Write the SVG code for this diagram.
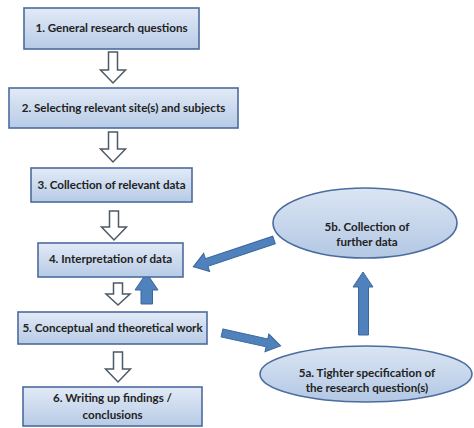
<svg xmlns="http://www.w3.org/2000/svg" width="474" height="428" viewBox="0 0 474 428">
  <defs>
    <linearGradient id="boxFill" x1="0" y1="0" x2="0" y2="1">
      <stop offset="0" stop-color="#e2eaf6"/>
      <stop offset="1" stop-color="#b7cbe6"/>
    </linearGradient>
    <linearGradient id="ovalFill" x1="0" y1="0" x2="0" y2="1">
      <stop offset="0" stop-color="#dbe5f3"/>
      <stop offset="1" stop-color="#b3c8e4"/>
    </linearGradient>
  </defs>
  <style>
    .box { fill: url(#boxFill); stroke: #4b6c9e; stroke-width: 1.6; }
    .oval { fill: url(#ovalFill); stroke: #4b6c9e; stroke-width: 1.6; }
    .lbl { font-family: Lato, "Liberation Sans", sans-serif; font-weight: bold; font-size: 11.6px; fill: #222; text-anchor: middle; }
    .hollow { fill: #ffffff; stroke: #4e5a66; stroke-width: 1.5; stroke-linejoin: miter; }
    .solid { fill: #4f81bd; stroke: #3a679c; stroke-width: 1; }
  </style>

  <rect width="474" height="428" fill="#ffffff"/>

  <g id="connectors">
    <!-- hollow down arrows between steps -->
    <path class="hollow" d="M108.5,52 H117.5 V70 H125.5 L113,83 L100.5,70 H108.5 Z"/>
    <path class="hollow" d="M108.5,132 H117.5 V149 H125.5 L113,162 L100.5,149 H108.5 Z"/>
    <path class="hollow" d="M109.5,211 H118.5 V227 H126.5 L114,240 L101.5,227 H109.5 Z"/>
    <path class="hollow" d="M113.5,283 H122.5 V294 H130 L118,305 L106,294 H113.5 Z"/>
    <path class="hollow" d="M113.5,352 H122.5 V369 H130.5 L118,382 L105.5,369 H113.5 Z"/>
    <!-- solid feedback arrows -->
    <path class="solid" d="M146.5,273 L158,290 H152.5 V304 H141 V290 H135 Z"/>
    <path class="solid" d="M363,272 L373,287 H368.5 V335 H358.5 V287 H353 Z"/>
    <path class="solid" transform="translate(274,240) rotate(161.6)" d="M0,-4 H71 V-9.5 L85,0 L71,9.5 V4 H0 Z"/>
    <path class="solid" transform="translate(222,333) rotate(12.4)" d="M0,-4 H46 V-9 L60,0 L46,9 V4 H0 Z"/>
  </g>

  <g id="step1">
    <rect class="box" x="24" y="8" width="175" height="41"/>
    <text class="lbl" x="111.5" y="32">1. General research questions</text>
  </g>
  <g id="step2">
    <rect class="box" x="9" y="88" width="229" height="40"/>
    <text class="lbl" x="123.5" y="112">2. Selecting relevant site(s) and subjects</text>
  </g>
  <g id="step3">
    <rect class="box" x="31" y="168" width="161" height="34"/>
    <text class="lbl" x="111.5" y="189">3. Collection of relevant data</text>
  </g>
  <g id="step4">
    <rect class="box" x="38" y="243" width="145" height="34"/>
    <text class="lbl" x="110.5" y="263">4. Interpretation of data</text>
  </g>
  <g id="step5">
    <rect class="box" x="18" y="312" width="189" height="32"/>
    <text class="lbl" x="112.5" y="332">5. Conceptual and theoretical work</text>
  </g>
  <g id="step6">
    <rect class="box" x="23" y="387" width="179" height="39"/>
    <text class="lbl" x="112.5" y="402">6. Writing up findings /</text>
    <text class="lbl" x="112.5" y="419">conclusions</text>
  </g>
  <g id="step5b">
    <ellipse class="oval" cx="365" cy="223" rx="92" ry="35"/>
    <text class="lbl" x="367" y="231">5b. Collection of</text>
    <text class="lbl" x="367" y="246">further data</text>
  </g>
  <g id="step5a">
    <ellipse class="oval" cx="366" cy="374" rx="106" ry="28"/>
    <text class="lbl" x="367" y="377">5a. Tighter specification of</text>
    <text class="lbl" x="367" y="392">the research question(s)</text>
  </g>
</svg>
